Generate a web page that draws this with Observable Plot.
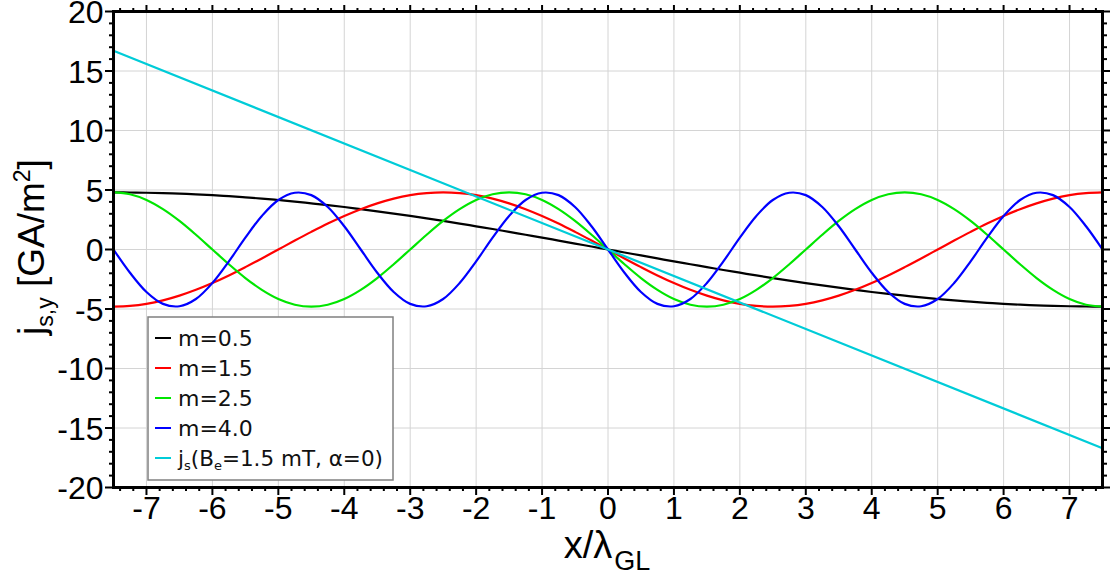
<!DOCTYPE html>
<html>
<head>
<meta charset="utf-8">
<script src="https://cdn.jsdelivr.net/npm/d3@7"></script>
<script src="https://cdn.jsdelivr.net/npm/@observablehq/plot@0.6"></script>
<style>
  html, body { margin: 0; padding: 0; background: #fff; }
  #chart { position: relative; width: 1114px; height: 581px; }
</style>
</head>
<body>
<div id="chart"></div>
<script>
// ---- data ----
const xs = [-7.5,-7.25,-7,-6.75,-6.5,-6.25,-6,-5.75,-5.5,-5.25,-5,-4.75,-4.5,-4.25,-4,-3.75,-3.5,-3.25,-3,-2.75,-2.5,-2.25,-2,-1.75,-1.5,-1.25,-1,-0.75,-0.5,-0.25,0,0.25,0.5,0.75,1,1.25,1.5,1.75,2,2.25,2.5,2.75,3,3.25,3.5,3.75,4,4.25,4.5,4.75,5,5.25,5.5,5.75,6,6.25,6.5,6.75,7,7.25,7.5];

const m05 = [4.80,4.79,4.77,4.74,4.69,4.64,4.57,4.48,4.38,4.28,4.16,4.03,3.88,3.73,3.57,3.39,3.21,3.02,2.82,2.61,2.40,2.18,1.95,1.72,1.48,1.24,1.00,0.75,0.50,0.25,0,-0.25,-0.50,-0.75,-1.00,-1.24,-1.48,-1.72,-1.95,-2.18,-2.40,-2.61,-2.82,-3.02,-3.21,-3.39,-3.57,-3.73,-3.88,-4.03,-4.16,-4.28,-4.38,-4.48,-4.57,-4.64,-4.69,-4.74,-4.77,-4.79,-4.80];
const m15 = [-4.8,-4.74,-4.57,-4.28,-3.88,-3.39,-2.82,-2.18,-1.48,-0.75,0,0.75,1.48,2.18,2.82,3.39,3.88,4.28,4.57,4.74,4.8,4.74,4.57,4.28,3.88,3.39,2.82,2.18,1.48,0.75,0,-0.75,-1.48,-2.18,-2.82,-3.39,-3.88,-4.28,-4.57,-4.74,-4.8,-4.74,-4.57,-4.28,-3.88,-3.39,-2.82,-2.18,-1.48,-0.75,0,0.75,1.48,2.18,2.82,3.39,3.88,4.28,4.57,4.74,4.8];
const m25 = [4.8,4.64,4.16,3.39,2.4,1.24,0,-1.24,-2.4,-3.39,-4.16,-4.64,-4.8,-4.64,-4.16,-3.39,-2.4,-1.24,0,1.24,2.4,3.39,4.16,4.64,4.8,4.64,4.16,3.39,2.4,1.24,0,-1.24,-2.4,-3.39,-4.16,-4.64,-4.8,-4.64,-4.16,-3.39,-2.4,-1.24,0,1.24,2.4,3.39,4.16,4.64,4.8,4.64,4.16,3.39,2.4,1.24,0,-1.24,-2.4,-3.39,-4.16,-4.64,-4.8];
const m40 = [0,-1.95,-3.57,-4.57,-4.77,-4.16,-2.82,-1.0,1.0,2.82,4.16,4.77,4.57,3.57,1.95,0,-1.95,-3.57,-4.57,-4.77,-4.16,-2.82,-1.0,1.0,2.82,4.16,4.77,4.57,3.57,1.95,0,-1.95,-3.57,-4.57,-4.77,-4.16,-2.82,-1.0,1.0,2.82,4.16,4.77,4.57,3.57,1.95,0,-1.95,-3.57,-4.57,-4.77,-4.16,-2.82,-1.0,1.0,2.82,4.16,4.77,4.57,3.57,1.95,0];

const jsX = [-7.5, 7.5];
const jsY = [16.7, -16.7];

const seriesNames = ["m=0.5", "m=1.5", "m=2.5", "m=4.0"];
const seriesValues = [m05, m15, m25, m40];
const seriesColors = ["#000000", "#ff0000", "#00e600", "#0000ff"];
const jsColor = "#00ccd8";

const xMajor = [-7,-6,-5,-4,-3,-2,-1,0,1,2,3,4,5,6,7];
const yMajor = [-20,-15,-10,-5,0,5,10,15,20];

// tables built from the arrays
const curveRows = seriesNames.flatMap((name, i) =>
  xs.map((x, k) => ({name, x, y: seriesValues[i][k]})));
const jsRows = jsX.map((x, k) => ({x, y: jsY[k]}));

const xMinor = d3.range(-37, 38).map(v => v / 5).filter(v => Math.abs(v - Math.round(v)) > 1e-9);
const yMinor = d3.range(-20, 21).filter(v => v % 5 !== 0);

const font = "'Liberation Sans', Arial, sans-serif";
const fmt = d => String(d);

const plot = Plot.plot({
  width: 1114,
  height: 581,
  marginLeft: 113,
  marginRight: 12,
  marginTop: 11,
  marginBottom: 94,
  style: {fontFamily: font, fontSize: "32px", background: "white", overflow: "visible"},
  x: {domain: [-7.5, 7.5], label: null},
  y: {domain: [-20, 20], label: null},
  marks: [
    Plot.gridX(xMajor, {stroke: "#d4d4d4", strokeOpacity: 1, strokeWidth: 1}),
    Plot.gridY(yMajor, {stroke: "#d4d4d4", strokeOpacity: 1, strokeWidth: 1}),
    Plot.line(curveRows, {x: "x", y: "y", z: "name",
      stroke: d => seriesColors[seriesNames.indexOf(d.name)],
      strokeWidth: 2.2, curve: "catmull-rom"}),
    Plot.line(jsRows, {x: "x", y: "y", stroke: jsColor, strokeWidth: 2.2}),
    // minor ticks
    Plot.axisX(xMinor, {anchor: "bottom", tickSize: 4, strokeWidth: 2, tickFormat: () => "", label: null}),
    Plot.axisX(xMinor, {anchor: "top", tickSize: 4, strokeWidth: 2, tickFormat: () => "", label: null}),
    Plot.axisY(yMinor, {anchor: "left", tickSize: 4, strokeWidth: 2, tickFormat: () => "", label: null}),
    Plot.axisY(yMinor, {anchor: "right", tickSize: 4, strokeWidth: 2, tickFormat: () => "", label: null}),
    // major ticks
    Plot.axisX(xMajor, {anchor: "bottom", tickSize: 8, tickPadding: 1, strokeWidth: 2, tickFormat: fmt, fontSize: 32, label: null}),
    Plot.axisX(xMajor, {anchor: "top", tickSize: 7, strokeWidth: 2, tickFormat: () => "", label: null}),
    Plot.axisY(yMajor, {anchor: "left", tickSize: 8, tickPadding: 2, strokeWidth: 2, tickFormat: fmt, fontSize: 32, label: null}),
    Plot.axisY(yMajor, {anchor: "right", tickSize: 7, strokeWidth: 2, tickFormat: () => "", label: null}),
    Plot.frame({stroke: "black", strokeWidth: 3})
  ]
});

document.getElementById("chart").appendChild(plot);

const svg = d3.select(plot);

// nudge the y tick labels down slightly (labels only, ticks untouched)
svg.selectAll('g[aria-label="y-axis tick label"]').each(function() {
  const g = d3.select(this);
  const tr = g.attr("transform") || "";
  g.attr("transform", tr + " translate(0,1.5)");
});

// x axis label
const xl = svg.append("text")
  .attr("x", 607).attr("y", 558)
  .attr("text-anchor", "middle")
  .style("font-family", font).style("font-size", "38px").attr("fill", "black");
xl.append("tspan").text("x/λ");
xl.append("tspan").attr("dx", 2).attr("dy", 12).style("font-size", "27px").text("GL");

// y axis label
const yl = svg.append("text")
  .attr("transform", "translate(44,247) rotate(-90)")
  .attr("text-anchor", "middle")
  .style("font-family", font).style("font-size", "37px").attr("fill", "black");
yl.append("tspan").text("j");
yl.append("tspan").attr("dy", 9).style("font-size", "23px").text("s,y");
yl.append("tspan").attr("dy", -9).text(" [GA/m");
yl.append("tspan").attr("dy", -14).style("font-size", "23px").text("2");
yl.append("tspan").attr("dy", 14).text("]");

// legend
const lg = svg.append("g").attr("transform", "translate(148,317)");
lg.append("rect").attr("width", 245).attr("height", 163)
  .attr("fill", "white").attr("stroke", "#808080").attr("stroke-width", 1.5);
const legendFont = "'DejaVu Sans', Verdana, sans-serif";
const entries = seriesNames.map((n, i) => ({label: n, color: seriesColors[i]}));
entries.forEach((e, i) => {
  const cy = 21 + i * 30;
  lg.append("line").attr("x1", 7).attr("x2", 23).attr("y1", cy).attr("y2", cy)
    .attr("stroke", e.color).attr("stroke-width", 2);
  lg.append("text").attr("x", 30).attr("y", cy + 8)
    .attr("text-anchor", "start")
    .style("font-family", legendFont).style("font-size", "22px").attr("fill", "#111")
    .text(e.label);
});
{
  const cy = 21 + 4 * 30;
  lg.append("line").attr("x1", 7).attr("x2", 23).attr("y1", cy).attr("y2", cy)
    .attr("stroke", jsColor).attr("stroke-width", 2);
  const t = lg.append("text").attr("x", 30).attr("y", cy + 8)
    .attr("text-anchor", "start")
    .style("font-family", legendFont).style("font-size", "21.5px").attr("fill", "#111");
  t.append("tspan").text("j");
  t.append("tspan").attr("dy", 4).style("font-size", "13px").text("s");
  t.append("tspan").attr("dy", -4).text("(B");
  t.append("tspan").attr("dy", 4).style("font-size", "13px").text("e");
  t.append("tspan").attr("dy", -4).text("=1.5 mT, α=0)");
}
</script>
</body>
</html>
